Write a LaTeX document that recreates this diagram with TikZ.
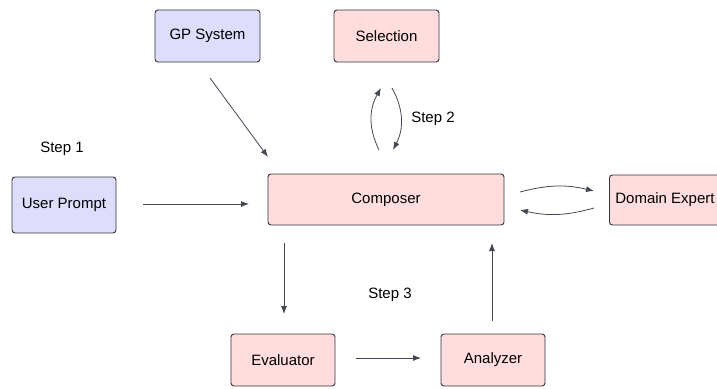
\documentclass[tikz,border=0pt]{standalone}
\usepackage{fontspec}
\setmainfont{Liberation Sans}
\usetikzlibrary{positioning,arrows.meta}
\definecolor{flowblue}{RGB}{222,222,252}
\definecolor{flowpink}{RGB}{255,220,222}
\definecolor{flowline}{RGB}{51,51,51}
\definecolor{flowarrow}{RGB}{68,72,84}

\begin{document}
\begin{tikzpicture}[
      x=1pt, y=-1pt,
      box/.style={rounded corners=3pt, draw=flowline, line width=0.9pt, align=center, minimum height=52pt, font=\fontsize{15pt}{18pt}\selectfont},
      arrow/.style={-{Latex[length=8pt,width=6pt]}, line width=0.8pt, draw=flowarrow},
      steplabel/.style={font=\fontsize{15pt}{18pt}\selectfont}
    ]
      \clip (0,0) rectangle (717,388);
      \node[box, fill=flowblue, minimum width=105pt] (gp) at (207.5,36) {GP System};
      \node[box, fill=flowpink, minimum width=105pt] (sel) at (386.5,36) {Selection};
      \node[box, fill=flowblue, minimum width=104pt, minimum height=56pt] (user) at (64,205) {User Prompt};
      \node[box, fill=flowpink, minimum width=236pt, minimum height=51pt] (comp) at (386,199.5) {Composer};
      \node[box, fill=flowpink, minimum width=111pt, minimum height=50pt, anchor=west] (expert) at (609,200) {Domain Expert};
      \node[box, fill=flowpink, minimum width=104pt] (eval) at (283,360) {Evaluator};
      \node[box, fill=flowpink, minimum width=104pt] (ana) at (493,360) {Analyzer};

      \node[steplabel] (s1) at (62,149) {Step 1};
      \node[steplabel] (s2) at (433,119) {Step 2};
      \node[steplabel] (s3) at (390,295) {Step 3};

      % end points of the free arrows
      \coordinate (gpA) at (210,78);
      \coordinate (gpB) at (268,157);
      \coordinate (userA) at (143,204);
      \coordinate (userB) at (249,204);
      \coordinate (compA) at (284,243);
      \coordinate (compB) at (284,314);
      \coordinate (evalA) at (356,358);
      \coordinate (evalB) at (421,358);
      \coordinate (anaA) at (492,321);
      \coordinate (anaB) at (492,243);
      \coordinate (selL1) at (379,150);
      \coordinate (selL2) at (381,88);
      \coordinate (selR1) at (392,88);
      \coordinate (selR2) at (393,150);
      \coordinate (expT1) at (520,192);
      \coordinate (expT2) at (594,191);
      \coordinate (expB1) at (594,208);
      \coordinate (expB2) at (520,210);

      \draw[arrow] (gpA) -- (gpB);
      \draw[arrow] (userA) -- (userB);
      \draw[arrow] (compA) -- (compB);
      \draw[arrow] (evalA) -- (evalB);
      \draw[arrow] (anaA) -- (anaB);
      \draw[arrow] (selL1) to[bend left=28] (selL2);
      \draw[arrow] (selR1) to[bend left=28] (selR2);
      \draw[arrow] (expT1) to[bend left=14] (expT2);
      \draw[arrow] (expB1) to[bend left=14] (expB2);
    \end{tikzpicture}
\end{document}
